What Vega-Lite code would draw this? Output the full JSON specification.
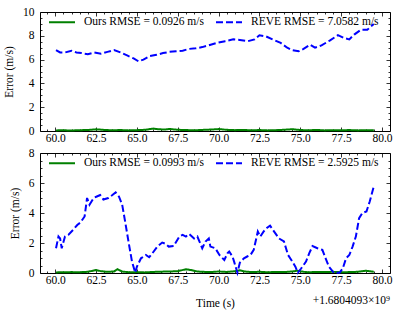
{
  "$schema": "https://vega.github.io/schema/vega-lite/v6.json",
  "background": "white",
  "padding": {"left": 3, "top": 5, "right": 6, "bottom": 5},
  "config": {
    "font": "Liberation Serif, Times New Roman, serif",
    "view": {"stroke": "black", "strokeWidth": 1},
    "axis": {
      "grid": false, "domain": false, "tickColor": "black", "tickWidth": 0.8,
      "labelColor": "black", "labelFontSize": 11.5, "labelFont": "Liberation Serif, Times New Roman, serif",
      "titleFontSize": 11.5, "titleFont": "Liberation Serif, Times New Roman, serif", "titleFontWeight": "normal", "titleColor": "black",
      "labelFlush": false, "labelOverlap": false, "labelBound": false
    },
    "legend": {
      "orient": "top-left", "direction": "horizontal", "offset": 4, "padding": 0,
      "symbolType": "M-2.6,0H2.6", "symbolSize": 100, "symbolStrokeWidth": 2, "symbolOffset": 12,
      "symbolFillColor": "transparent",
      "labelFontSize": 11.5, "labelFont": "Liberation Serif, Times New Roman, serif", "labelColor": "black",
      "labelOffset": 16, "columnPadding": 7
    }
  },
  "datasets": {
    "top": [
      {"t": 60.05, "e": 0.05, "s": "Ours RMSE = 0.0926 m/s"},
      {"t": 60.5, "e": 0.06, "s": "Ours RMSE = 0.0926 m/s"},
      {"t": 61.0, "e": 0.04, "s": "Ours RMSE = 0.0926 m/s"},
      {"t": 61.5, "e": 0.07, "s": "Ours RMSE = 0.0926 m/s"},
      {"t": 62.0, "e": 0.08, "s": "Ours RMSE = 0.0926 m/s"},
      {"t": 62.5, "e": 0.14, "s": "Ours RMSE = 0.0926 m/s"},
      {"t": 63.0, "e": 0.09, "s": "Ours RMSE = 0.0926 m/s"},
      {"t": 63.5, "e": 0.06, "s": "Ours RMSE = 0.0926 m/s"},
      {"t": 64.0, "e": 0.08, "s": "Ours RMSE = 0.0926 m/s"},
      {"t": 64.5, "e": 0.05, "s": "Ours RMSE = 0.0926 m/s"},
      {"t": 65.0, "e": 0.07, "s": "Ours RMSE = 0.0926 m/s"},
      {"t": 65.5, "e": 0.1, "s": "Ours RMSE = 0.0926 m/s"},
      {"t": 66.0, "e": 0.2, "s": "Ours RMSE = 0.0926 m/s"},
      {"t": 66.3, "e": 0.15, "s": "Ours RMSE = 0.0926 m/s"},
      {"t": 66.7, "e": 0.12, "s": "Ours RMSE = 0.0926 m/s"},
      {"t": 67.0, "e": 0.17, "s": "Ours RMSE = 0.0926 m/s"},
      {"t": 67.5, "e": 0.1, "s": "Ours RMSE = 0.0926 m/s"},
      {"t": 68.0, "e": 0.08, "s": "Ours RMSE = 0.0926 m/s"},
      {"t": 68.5, "e": 0.06, "s": "Ours RMSE = 0.0926 m/s"},
      {"t": 69.0, "e": 0.09, "s": "Ours RMSE = 0.0926 m/s"},
      {"t": 69.5, "e": 0.12, "s": "Ours RMSE = 0.0926 m/s"},
      {"t": 70.0, "e": 0.16, "s": "Ours RMSE = 0.0926 m/s"},
      {"t": 70.5, "e": 0.1, "s": "Ours RMSE = 0.0926 m/s"},
      {"t": 71.0, "e": 0.07, "s": "Ours RMSE = 0.0926 m/s"},
      {"t": 71.5, "e": 0.09, "s": "Ours RMSE = 0.0926 m/s"},
      {"t": 72.0, "e": 0.06, "s": "Ours RMSE = 0.0926 m/s"},
      {"t": 72.5, "e": 0.08, "s": "Ours RMSE = 0.0926 m/s"},
      {"t": 73.0, "e": 0.05, "s": "Ours RMSE = 0.0926 m/s"},
      {"t": 73.5, "e": 0.07, "s": "Ours RMSE = 0.0926 m/s"},
      {"t": 74.0, "e": 0.1, "s": "Ours RMSE = 0.0926 m/s"},
      {"t": 74.5, "e": 0.15, "s": "Ours RMSE = 0.0926 m/s"},
      {"t": 75.0, "e": 0.08, "s": "Ours RMSE = 0.0926 m/s"},
      {"t": 75.5, "e": 0.06, "s": "Ours RMSE = 0.0926 m/s"},
      {"t": 76.0, "e": 0.09, "s": "Ours RMSE = 0.0926 m/s"},
      {"t": 76.5, "e": 0.05, "s": "Ours RMSE = 0.0926 m/s"},
      {"t": 77.0, "e": 0.07, "s": "Ours RMSE = 0.0926 m/s"},
      {"t": 77.5, "e": 0.06, "s": "Ours RMSE = 0.0926 m/s"},
      {"t": 78.0, "e": 0.08, "s": "Ours RMSE = 0.0926 m/s"},
      {"t": 78.5, "e": 0.05, "s": "Ours RMSE = 0.0926 m/s"},
      {"t": 79.0, "e": 0.07, "s": "Ours RMSE = 0.0926 m/s"},
      {"t": 79.5, "e": 0.06, "s": "Ours RMSE = 0.0926 m/s"},
      {"t": 60.05, "e": 6.8, "s": "REVE RMSE = 7.0582 m/s"},
      {"t": 60.3, "e": 6.6, "s": "REVE RMSE = 7.0582 m/s"},
      {"t": 60.6, "e": 6.6, "s": "REVE RMSE = 7.0582 m/s"},
      {"t": 61.0, "e": 6.75, "s": "REVE RMSE = 7.0582 m/s"},
      {"t": 61.3, "e": 6.6, "s": "REVE RMSE = 7.0582 m/s"},
      {"t": 61.6, "e": 6.55, "s": "REVE RMSE = 7.0582 m/s"},
      {"t": 62.0, "e": 6.45, "s": "REVE RMSE = 7.0582 m/s"},
      {"t": 62.4, "e": 6.6, "s": "REVE RMSE = 7.0582 m/s"},
      {"t": 62.8, "e": 6.5, "s": "REVE RMSE = 7.0582 m/s"},
      {"t": 63.2, "e": 6.65, "s": "REVE RMSE = 7.0582 m/s"},
      {"t": 63.6, "e": 6.8, "s": "REVE RMSE = 7.0582 m/s"},
      {"t": 64.0, "e": 6.6, "s": "REVE RMSE = 7.0582 m/s"},
      {"t": 64.4, "e": 6.35, "s": "REVE RMSE = 7.0582 m/s"},
      {"t": 64.8, "e": 6.1, "s": "REVE RMSE = 7.0582 m/s"},
      {"t": 65.1, "e": 5.85, "s": "REVE RMSE = 7.0582 m/s"},
      {"t": 65.4, "e": 6.0, "s": "REVE RMSE = 7.0582 m/s"},
      {"t": 65.8, "e": 6.3, "s": "REVE RMSE = 7.0582 m/s"},
      {"t": 66.2, "e": 6.4, "s": "REVE RMSE = 7.0582 m/s"},
      {"t": 66.6, "e": 6.55, "s": "REVE RMSE = 7.0582 m/s"},
      {"t": 67.0, "e": 6.65, "s": "REVE RMSE = 7.0582 m/s"},
      {"t": 67.4, "e": 6.7, "s": "REVE RMSE = 7.0582 m/s"},
      {"t": 67.8, "e": 6.75, "s": "REVE RMSE = 7.0582 m/s"},
      {"t": 68.2, "e": 6.9, "s": "REVE RMSE = 7.0582 m/s"},
      {"t": 68.6, "e": 6.95, "s": "REVE RMSE = 7.0582 m/s"},
      {"t": 69.0, "e": 7.05, "s": "REVE RMSE = 7.0582 m/s"},
      {"t": 69.4, "e": 7.2, "s": "REVE RMSE = 7.0582 m/s"},
      {"t": 69.9, "e": 7.4, "s": "REVE RMSE = 7.0582 m/s"},
      {"t": 70.4, "e": 7.55, "s": "REVE RMSE = 7.0582 m/s"},
      {"t": 70.9, "e": 7.7, "s": "REVE RMSE = 7.0582 m/s"},
      {"t": 71.3, "e": 7.65, "s": "REVE RMSE = 7.0582 m/s"},
      {"t": 71.8, "e": 7.55, "s": "REVE RMSE = 7.0582 m/s"},
      {"t": 72.2, "e": 7.7, "s": "REVE RMSE = 7.0582 m/s"},
      {"t": 72.5, "e": 8.05, "s": "REVE RMSE = 7.0582 m/s"},
      {"t": 72.9, "e": 7.95, "s": "REVE RMSE = 7.0582 m/s"},
      {"t": 73.3, "e": 7.7, "s": "REVE RMSE = 7.0582 m/s"},
      {"t": 73.8, "e": 7.4, "s": "REVE RMSE = 7.0582 m/s"},
      {"t": 74.2, "e": 7.0, "s": "REVE RMSE = 7.0582 m/s"},
      {"t": 74.5, "e": 6.8, "s": "REVE RMSE = 7.0582 m/s"},
      {"t": 74.9, "e": 6.7, "s": "REVE RMSE = 7.0582 m/s"},
      {"t": 75.2, "e": 6.9, "s": "REVE RMSE = 7.0582 m/s"},
      {"t": 75.6, "e": 7.25, "s": "REVE RMSE = 7.0582 m/s"},
      {"t": 75.9, "e": 7.0, "s": "REVE RMSE = 7.0582 m/s"},
      {"t": 76.3, "e": 7.2, "s": "REVE RMSE = 7.0582 m/s"},
      {"t": 76.8, "e": 7.6, "s": "REVE RMSE = 7.0582 m/s"},
      {"t": 77.3, "e": 8.05, "s": "REVE RMSE = 7.0582 m/s"},
      {"t": 77.7, "e": 7.8, "s": "REVE RMSE = 7.0582 m/s"},
      {"t": 78.0, "e": 7.7, "s": "REVE RMSE = 7.0582 m/s"},
      {"t": 78.3, "e": 8.1, "s": "REVE RMSE = 7.0582 m/s"},
      {"t": 78.7, "e": 8.5, "s": "REVE RMSE = 7.0582 m/s"},
      {"t": 79.1, "e": 8.5, "s": "REVE RMSE = 7.0582 m/s"},
      {"t": 79.5, "e": 9.0, "s": "REVE RMSE = 7.0582 m/s"}
    ],
    "bottom": [
      {"t": 60.05, "e": 0.04, "s": "Ours RMSE = 0.0993 m/s"},
      {"t": 60.5, "e": 0.05, "s": "Ours RMSE = 0.0993 m/s"},
      {"t": 61.0, "e": 0.06, "s": "Ours RMSE = 0.0993 m/s"},
      {"t": 61.5, "e": 0.05, "s": "Ours RMSE = 0.0993 m/s"},
      {"t": 62.0, "e": 0.08, "s": "Ours RMSE = 0.0993 m/s"},
      {"t": 62.5, "e": 0.2, "s": "Ours RMSE = 0.0993 m/s"},
      {"t": 62.8, "e": 0.12, "s": "Ours RMSE = 0.0993 m/s"},
      {"t": 63.2, "e": 0.08, "s": "Ours RMSE = 0.0993 m/s"},
      {"t": 63.6, "e": 0.1, "s": "Ours RMSE = 0.0993 m/s"},
      {"t": 63.8, "e": 0.25, "s": "Ours RMSE = 0.0993 m/s"},
      {"t": 64.1, "e": 0.1, "s": "Ours RMSE = 0.0993 m/s"},
      {"t": 64.5, "e": 0.05, "s": "Ours RMSE = 0.0993 m/s"},
      {"t": 65.0, "e": 0.06, "s": "Ours RMSE = 0.0993 m/s"},
      {"t": 65.5, "e": 0.04, "s": "Ours RMSE = 0.0993 m/s"},
      {"t": 66.0, "e": 0.07, "s": "Ours RMSE = 0.0993 m/s"},
      {"t": 66.5, "e": 0.09, "s": "Ours RMSE = 0.0993 m/s"},
      {"t": 67.0, "e": 0.1, "s": "Ours RMSE = 0.0993 m/s"},
      {"t": 67.5, "e": 0.12, "s": "Ours RMSE = 0.0993 m/s"},
      {"t": 68.0, "e": 0.25, "s": "Ours RMSE = 0.0993 m/s"},
      {"t": 68.3, "e": 0.2, "s": "Ours RMSE = 0.0993 m/s"},
      {"t": 68.7, "e": 0.1, "s": "Ours RMSE = 0.0993 m/s"},
      {"t": 69.0, "e": 0.08, "s": "Ours RMSE = 0.0993 m/s"},
      {"t": 69.5, "e": 0.06, "s": "Ours RMSE = 0.0993 m/s"},
      {"t": 70.0, "e": 0.1, "s": "Ours RMSE = 0.0993 m/s"},
      {"t": 70.5, "e": 0.07, "s": "Ours RMSE = 0.0993 m/s"},
      {"t": 71.0, "e": 0.12, "s": "Ours RMSE = 0.0993 m/s"},
      {"t": 71.3, "e": 0.18, "s": "Ours RMSE = 0.0993 m/s"},
      {"t": 71.6, "e": 0.1, "s": "Ours RMSE = 0.0993 m/s"},
      {"t": 72.0, "e": 0.06, "s": "Ours RMSE = 0.0993 m/s"},
      {"t": 72.5, "e": 0.08, "s": "Ours RMSE = 0.0993 m/s"},
      {"t": 73.0, "e": 0.05, "s": "Ours RMSE = 0.0993 m/s"},
      {"t": 73.5, "e": 0.07, "s": "Ours RMSE = 0.0993 m/s"},
      {"t": 74.0, "e": 0.06, "s": "Ours RMSE = 0.0993 m/s"},
      {"t": 74.5, "e": 0.1, "s": "Ours RMSE = 0.0993 m/s"},
      {"t": 74.8, "e": 0.15, "s": "Ours RMSE = 0.0993 m/s"},
      {"t": 75.2, "e": 0.08, "s": "Ours RMSE = 0.0993 m/s"},
      {"t": 75.5, "e": 0.05, "s": "Ours RMSE = 0.0993 m/s"},
      {"t": 76.0, "e": 0.07, "s": "Ours RMSE = 0.0993 m/s"},
      {"t": 76.5, "e": 0.06, "s": "Ours RMSE = 0.0993 m/s"},
      {"t": 77.0, "e": 0.08, "s": "Ours RMSE = 0.0993 m/s"},
      {"t": 77.5, "e": 0.05, "s": "Ours RMSE = 0.0993 m/s"},
      {"t": 78.0, "e": 0.06, "s": "Ours RMSE = 0.0993 m/s"},
      {"t": 78.5, "e": 0.08, "s": "Ours RMSE = 0.0993 m/s"},
      {"t": 79.0, "e": 0.15, "s": "Ours RMSE = 0.0993 m/s"},
      {"t": 79.5, "e": 0.08, "s": "Ours RMSE = 0.0993 m/s"},
      {"t": 60.05, "e": 1.65, "s": "REVE RMSE = 2.5925 m/s"},
      {"t": 60.2, "e": 2.43, "s": "REVE RMSE = 2.5925 m/s"},
      {"t": 60.3, "e": 2.3, "s": "REVE RMSE = 2.5925 m/s"},
      {"t": 60.4, "e": 1.65, "s": "REVE RMSE = 2.5925 m/s"},
      {"t": 60.6, "e": 2.43, "s": "REVE RMSE = 2.5925 m/s"},
      {"t": 60.8, "e": 2.54, "s": "REVE RMSE = 2.5925 m/s"},
      {"t": 61.1, "e": 2.88, "s": "REVE RMSE = 2.5925 m/s"},
      {"t": 61.35, "e": 3.2, "s": "REVE RMSE = 2.5925 m/s"},
      {"t": 61.55, "e": 3.37, "s": "REVE RMSE = 2.5925 m/s"},
      {"t": 61.8, "e": 3.77, "s": "REVE RMSE = 2.5925 m/s"},
      {"t": 61.95, "e": 5.0, "s": "REVE RMSE = 2.5925 m/s"},
      {"t": 62.1, "e": 4.55, "s": "REVE RMSE = 2.5925 m/s"},
      {"t": 62.35, "e": 5.0, "s": "REVE RMSE = 2.5925 m/s"},
      {"t": 62.55, "e": 5.1, "s": "REVE RMSE = 2.5925 m/s"},
      {"t": 62.75, "e": 5.2, "s": "REVE RMSE = 2.5925 m/s"},
      {"t": 62.95, "e": 4.9, "s": "REVE RMSE = 2.5925 m/s"},
      {"t": 63.25, "e": 5.0, "s": "REVE RMSE = 2.5925 m/s"},
      {"t": 63.5, "e": 5.2, "s": "REVE RMSE = 2.5925 m/s"},
      {"t": 63.7, "e": 5.37, "s": "REVE RMSE = 2.5925 m/s"},
      {"t": 63.9, "e": 5.1, "s": "REVE RMSE = 2.5925 m/s"},
      {"t": 64.1, "e": 4.55, "s": "REVE RMSE = 2.5925 m/s"},
      {"t": 64.3, "e": 3.3, "s": "REVE RMSE = 2.5925 m/s"},
      {"t": 64.5, "e": 2.0, "s": "REVE RMSE = 2.5925 m/s"},
      {"t": 64.7, "e": 0.76, "s": "REVE RMSE = 2.5925 m/s"},
      {"t": 64.9, "e": 0.02, "s": "REVE RMSE = 2.5925 m/s"},
      {"t": 65.0, "e": 0.42, "s": "REVE RMSE = 2.5925 m/s"},
      {"t": 65.25, "e": 0.98, "s": "REVE RMSE = 2.5925 m/s"},
      {"t": 65.55, "e": 1.2, "s": "REVE RMSE = 2.5925 m/s"},
      {"t": 65.75, "e": 1.05, "s": "REVE RMSE = 2.5925 m/s"},
      {"t": 65.95, "e": 1.32, "s": "REVE RMSE = 2.5925 m/s"},
      {"t": 66.25, "e": 1.76, "s": "REVE RMSE = 2.5925 m/s"},
      {"t": 66.55, "e": 2.03, "s": "REVE RMSE = 2.5925 m/s"},
      {"t": 66.75, "e": 1.95, "s": "REVE RMSE = 2.5925 m/s"},
      {"t": 66.95, "e": 1.76, "s": "REVE RMSE = 2.5925 m/s"},
      {"t": 67.25, "e": 1.8, "s": "REVE RMSE = 2.5925 m/s"},
      {"t": 67.6, "e": 2.43, "s": "REVE RMSE = 2.5925 m/s"},
      {"t": 67.8, "e": 2.54, "s": "REVE RMSE = 2.5925 m/s"},
      {"t": 68.0, "e": 2.43, "s": "REVE RMSE = 2.5925 m/s"},
      {"t": 68.2, "e": 2.6, "s": "REVE RMSE = 2.5925 m/s"},
      {"t": 68.5, "e": 2.3, "s": "REVE RMSE = 2.5925 m/s"},
      {"t": 68.7, "e": 2.43, "s": "REVE RMSE = 2.5925 m/s"},
      {"t": 69.0, "e": 1.65, "s": "REVE RMSE = 2.5925 m/s"},
      {"t": 69.2, "e": 2.1, "s": "REVE RMSE = 2.5925 m/s"},
      {"t": 69.4, "e": 2.3, "s": "REVE RMSE = 2.5925 m/s"},
      {"t": 69.5, "e": 1.76, "s": "REVE RMSE = 2.5925 m/s"},
      {"t": 69.8, "e": 1.65, "s": "REVE RMSE = 2.5925 m/s"},
      {"t": 70.05, "e": 1.2, "s": "REVE RMSE = 2.5925 m/s"},
      {"t": 70.35, "e": 0.87, "s": "REVE RMSE = 2.5925 m/s"},
      {"t": 70.55, "e": 1.32, "s": "REVE RMSE = 2.5925 m/s"},
      {"t": 70.65, "e": 1.43, "s": "REVE RMSE = 2.5925 m/s"},
      {"t": 70.85, "e": 1.1, "s": "REVE RMSE = 2.5925 m/s"},
      {"t": 70.95, "e": 0.76, "s": "REVE RMSE = 2.5925 m/s"},
      {"t": 71.15, "e": 0.02, "s": "REVE RMSE = 2.5925 m/s"},
      {"t": 71.3, "e": 0.69, "s": "REVE RMSE = 2.5925 m/s"},
      {"t": 71.55, "e": 0.98, "s": "REVE RMSE = 2.5925 m/s"},
      {"t": 71.75, "e": 1.1, "s": "REVE RMSE = 2.5925 m/s"},
      {"t": 71.95, "e": 1.2, "s": "REVE RMSE = 2.5925 m/s"},
      {"t": 72.15, "e": 1.54, "s": "REVE RMSE = 2.5925 m/s"},
      {"t": 72.4, "e": 2.76, "s": "REVE RMSE = 2.5925 m/s"},
      {"t": 72.55, "e": 2.43, "s": "REVE RMSE = 2.5925 m/s"},
      {"t": 72.75, "e": 2.76, "s": "REVE RMSE = 2.5925 m/s"},
      {"t": 72.95, "e": 3.0, "s": "REVE RMSE = 2.5925 m/s"},
      {"t": 73.15, "e": 3.15, "s": "REVE RMSE = 2.5925 m/s"},
      {"t": 73.4, "e": 2.76, "s": "REVE RMSE = 2.5925 m/s"},
      {"t": 73.7, "e": 2.3, "s": "REVE RMSE = 2.5925 m/s"},
      {"t": 74.0, "e": 2.1, "s": "REVE RMSE = 2.5925 m/s"},
      {"t": 74.25, "e": 1.2, "s": "REVE RMSE = 2.5925 m/s"},
      {"t": 74.45, "e": 0.87, "s": "REVE RMSE = 2.5925 m/s"},
      {"t": 74.7, "e": 0.42, "s": "REVE RMSE = 2.5925 m/s"},
      {"t": 74.85, "e": 0.02, "s": "REVE RMSE = 2.5925 m/s"},
      {"t": 75.05, "e": 0.3, "s": "REVE RMSE = 2.5925 m/s"},
      {"t": 75.35, "e": 0.76, "s": "REVE RMSE = 2.5925 m/s"},
      {"t": 75.55, "e": 1.32, "s": "REVE RMSE = 2.5925 m/s"},
      {"t": 75.75, "e": 1.8, "s": "REVE RMSE = 2.5925 m/s"},
      {"t": 76.05, "e": 1.65, "s": "REVE RMSE = 2.5925 m/s"},
      {"t": 76.35, "e": 1.54, "s": "REVE RMSE = 2.5925 m/s"},
      {"t": 76.55, "e": 0.98, "s": "REVE RMSE = 2.5925 m/s"},
      {"t": 76.75, "e": 0.42, "s": "REVE RMSE = 2.5925 m/s"},
      {"t": 77.05, "e": 0.02, "s": "REVE RMSE = 2.5925 m/s"},
      {"t": 77.4, "e": 0.02, "s": "REVE RMSE = 2.5925 m/s"},
      {"t": 77.6, "e": 0.3, "s": "REVE RMSE = 2.5925 m/s"},
      {"t": 77.8, "e": 0.98, "s": "REVE RMSE = 2.5925 m/s"},
      {"t": 78.0, "e": 1.2, "s": "REVE RMSE = 2.5925 m/s"},
      {"t": 78.2, "e": 1.76, "s": "REVE RMSE = 2.5925 m/s"},
      {"t": 78.4, "e": 2.43, "s": "REVE RMSE = 2.5925 m/s"},
      {"t": 78.6, "e": 3.66, "s": "REVE RMSE = 2.5925 m/s"},
      {"t": 78.8, "e": 4.0, "s": "REVE RMSE = 2.5925 m/s"},
      {"t": 79.05, "e": 4.1, "s": "REVE RMSE = 2.5925 m/s"},
      {"t": 79.25, "e": 4.77, "s": "REVE RMSE = 2.5925 m/s"},
      {"t": 79.5, "e": 5.78, "s": "REVE RMSE = 2.5925 m/s"}
    ]
  },
  "spacing": 0,
  "resolve": {"scale": {"color": "independent", "strokeDash": "independent"}, "legend": {"color": "independent", "strokeDash": "independent"}},
  "vconcat": [
    {
      "width": 350, "height": 119,
      "data": {"name": "top"},
      "layer": [
        {
          "mark": {"type": "line", "strokeWidth": 2},
          "encoding": {
            "x": {"field": "t", "type": "quantitative", "scale": {"domain": [59.07, 80.49], "nice": false, "zero": false},
              "axis": {"orient": "bottom", "title": null, "labelPadding": 5,
                "values": [59.5, 60, 60.5, 61, 61.5, 62, 62.5, 63, 63.5, 64, 64.5, 65, 65.5, 66, 66.5, 67, 67.5, 68, 68.5, 69, 69.5, 70, 70.5, 71, 71.5, 72, 72.5, 73, 73.5, 74, 74.5, 75, 75.5, 76, 76.5, 77, 77.5, 78, 78.5, 79, 79.5, 80],
                "labelExpr": "datum.value % 2.5 === 0 ? format(datum.value, '.1f') : ''",
                "tickSize": {"condition": {"test": "datum.value % 2.5 === 0", "value": -4}, "value": -2}}},
            "y": {"field": "e", "type": "quantitative", "scale": {"domain": [0, 10], "nice": false},
              "axis": {"orient": "left", "title": "Error (m/s)", "labelPadding": 10, "titlePadding": 8,
                "values": [0, 0.5, 1, 1.5, 2, 2.5, 3, 3.5, 4, 4.5, 5, 5.5, 6, 6.5, 7, 7.5, 8, 8.5, 9, 9.5, 10],
                "labelExpr": "datum.value % 2 === 0 ? format(datum.value, 'd') : ''",
                "tickSize": {"condition": {"test": "datum.value % 2 === 0", "value": -4}, "value": -2}}},
            "color": {"field": "s", "type": "nominal", "title": null,
              "scale": {"domain": ["Ours RMSE = 0.0926 m/s", "REVE RMSE = 7.0582 m/s"], "range": ["#008000", "#0000ff"]}},
            "strokeDash": {"field": "s", "type": "nominal", "title": null,
              "scale": {"domain": ["Ours RMSE = 0.0926 m/s", "REVE RMSE = 7.0582 m/s"], "range": [[1, 0], [7, 3]]}}
          }
        },
        {
          "mark": {"type": "line", "opacity": 0},
          "encoding": {
            "x": {"field": "t", "type": "quantitative",
              "axis": {"orient": "top", "title": null, "labels": false,
                "values": [59.5, 60, 60.5, 61, 61.5, 62, 62.5, 63, 63.5, 64, 64.5, 65, 65.5, 66, 66.5, 67, 67.5, 68, 68.5, 69, 69.5, 70, 70.5, 71, 71.5, 72, 72.5, 73, 73.5, 74, 74.5, 75, 75.5, 76, 76.5, 77, 77.5, 78, 78.5, 79, 79.5, 80],
                "tickSize": {"condition": {"test": "datum.value % 2.5 === 0", "value": -4}, "value": -2}}},
            "y": {"field": "e", "type": "quantitative",
              "axis": {"orient": "right", "title": null, "labels": false,
                "values": [0, 0.5, 1, 1.5, 2, 2.5, 3, 3.5, 4, 4.5, 5, 5.5, 6, 6.5, 7, 7.5, 8, 8.5, 9, 9.5, 10],
                "tickSize": {"condition": {"test": "datum.value % 2 === 0", "value": -4}, "value": -2}}}
          }
        }
      ],
      "resolve": {"axis": {"x": "independent", "y": "independent"}}
    },
    {
      "width": 350, "height": 120,
      "data": {"name": "bottom"},
      "title": {"text": "+1.6804093×10⁹", "orient": "bottom", "anchor": "end", "frame": "group", "offset": -14, "fontSize": 11.5, "fontWeight": "normal", "font": "Liberation Serif, Times New Roman, serif", "color": "black"},
      "layer": [
        {
          "mark": {"type": "line", "strokeWidth": 2},
          "encoding": {
            "x": {"field": "t", "type": "quantitative", "scale": {"domain": [59.07, 80.49], "nice": false, "zero": false},
              "axis": {"orient": "bottom", "title": "Time (s)", "labelPadding": 5, "titlePadding": 10,
                "values": [59.5, 60, 60.5, 61, 61.5, 62, 62.5, 63, 63.5, 64, 64.5, 65, 65.5, 66, 66.5, 67, 67.5, 68, 68.5, 69, 69.5, 70, 70.5, 71, 71.5, 72, 72.5, 73, 73.5, 74, 74.5, 75, 75.5, 76, 76.5, 77, 77.5, 78, 78.5, 79, 79.5, 80],
                "labelExpr": "datum.value % 2.5 === 0 ? format(datum.value, '.1f') : ''",
                "tickSize": {"condition": {"test": "datum.value % 2.5 === 0", "value": -4}, "value": -2}}},
            "y": {"field": "e", "type": "quantitative", "scale": {"domain": [0, 8], "nice": false},
              "axis": {"orient": "left", "title": "Error (m/s)", "labelPadding": 10, "titlePadding": 8,
                "values": [0, 0.5, 1, 1.5, 2, 2.5, 3, 3.5, 4, 4.5, 5, 5.5, 6, 6.5, 7, 7.5, 8],
                "labelExpr": "datum.value % 2 === 0 ? format(datum.value, 'd') : ''",
                "tickSize": {"condition": {"test": "datum.value % 2 === 0", "value": -4}, "value": -2}}},
            "color": {"field": "s", "type": "nominal", "title": null,
              "scale": {"domain": ["Ours RMSE = 0.0993 m/s", "REVE RMSE = 2.5925 m/s"], "range": ["#008000", "#0000ff"]}},
            "strokeDash": {"field": "s", "type": "nominal", "title": null,
              "scale": {"domain": ["Ours RMSE = 0.0993 m/s", "REVE RMSE = 2.5925 m/s"], "range": [[1, 0], [7, 3]]}}
          }
        },
        {
          "mark": {"type": "line", "opacity": 0},
          "encoding": {
            "x": {"field": "t", "type": "quantitative",
              "axis": {"orient": "top", "title": null, "labels": false,
                "values": [59.5, 60, 60.5, 61, 61.5, 62, 62.5, 63, 63.5, 64, 64.5, 65, 65.5, 66, 66.5, 67, 67.5, 68, 68.5, 69, 69.5, 70, 70.5, 71, 71.5, 72, 72.5, 73, 73.5, 74, 74.5, 75, 75.5, 76, 76.5, 77, 77.5, 78, 78.5, 79, 79.5, 80],
                "tickSize": {"condition": {"test": "datum.value % 2.5 === 0", "value": -4}, "value": -2}}},
            "y": {"field": "e", "type": "quantitative",
              "axis": {"orient": "right", "title": null, "labels": false,
                "values": [0, 0.5, 1, 1.5, 2, 2.5, 3, 3.5, 4, 4.5, 5, 5.5, 6, 6.5, 7, 7.5, 8],
                "tickSize": {"condition": {"test": "datum.value % 2 === 0", "value": -4}, "value": -2}}}
          }
        }
      ],
      "resolve": {"axis": {"x": "independent", "y": "independent"}}
    }
  ]
}
